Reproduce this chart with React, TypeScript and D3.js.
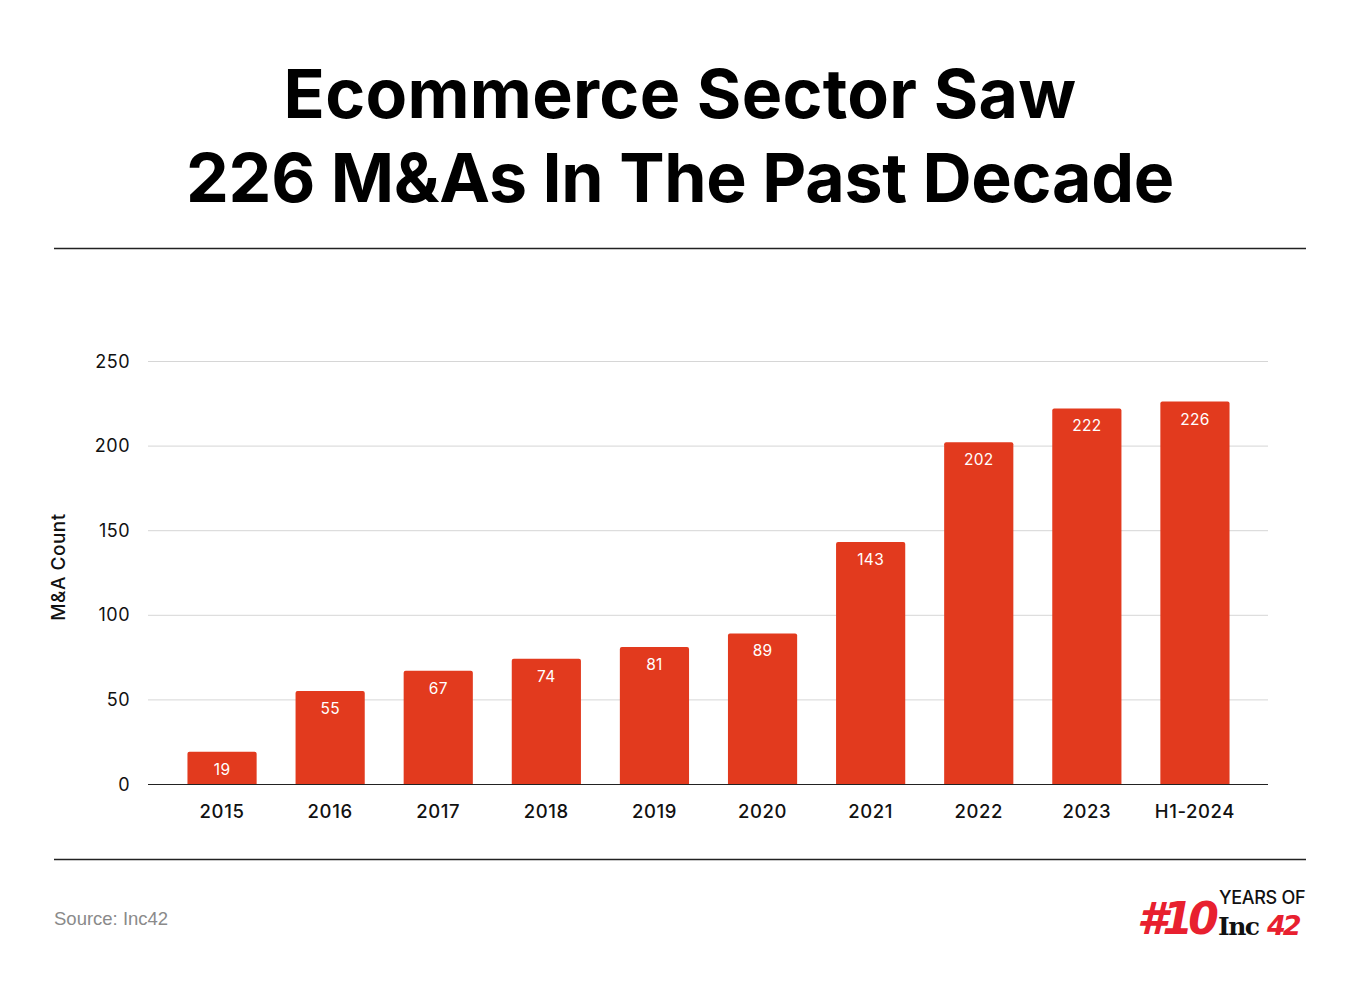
import React from "react";
import * as d3 from "d3";

const categories = ["2015", "2016", "2017", "2018", "2019", "2020", "2021", "2022", "2023", "H1-2024"];
const values = [19, 55, 67, 74, 81, 89, 143, 202, 222, 226];
const yTicks = [0, 50, 100, 150, 200, 250];

const W = 1360;
const H = 988;
const FONT = "Inter, 'Noto Sans', sans-serif";

export default function App() {
  const x = d3.scaleBand<string>().domain(categories).range([168, 1249]).paddingInner(0.36).paddingOuter(0.18);
  const y = d3.scaleLinear().domain([0, 250]).range([784, 361]);
  const red = "#E23A1E";
  return (
    <svg width={W} height={H} style={{ position: "absolute", left: 0, top: 0, background: "#fff" }}>
      <rect width={W} height={H} fill="#fff" />
      <text x={680} y={118} textAnchor="middle" fontFamily={FONT} fontWeight={700} fontSize={68} fill="#000" letterSpacing={0.3}>
        Ecommerce Sector Saw
      </text>
      <text x={680} y={202} textAnchor="middle" fontFamily={FONT} fontWeight={700} fontSize={68} fill="#000" letterSpacing={-0.3}>
        226 M&amp;As In The Past Decade
      </text>
      <line x1={54} x2={1306} y1={248.5} y2={248.5} stroke="#222" strokeWidth={1.3} />
      <line x1={54} x2={1306} y1={859.5} y2={859.5} stroke="#222" strokeWidth={1.3} />

      {yTicks.map((t) => (
        <g key={t}>
          {t > 0 && <line x1={148} x2={1268} y1={y(t) + 0.5} y2={y(t) + 0.5} stroke="#d6d6d6" strokeWidth={1} />}
          <text x={130} y={y(t) + 6.5} textAnchor="end" fontFamily={FONT} fontSize={18} fill="#111" letterSpacing={0.5}>
            {t}
          </text>
        </g>
      ))}
      <text transform={`translate(65,567) rotate(-90)`} textAnchor="middle" fontFamily={FONT} fontWeight={500} fontSize={19} fill="#111" letterSpacing={0.5}>
        M&amp;A Count
      </text>

      {categories.map((c, i) => {
        const bx = x(c)!;
        const bw = x.bandwidth();
        const top = y(values[i]);
        const r = 2;
        const path = `M${bx},${y(0)} V${top + r} Q${bx},${top} ${bx + r},${top} H${bx + bw - r} Q${bx + bw},${top} ${bx + bw},${top + r} V${y(0)} Z`;
        return (
          <g key={c}>
            <path d={path} fill={red} />
            <text x={bx + bw / 2} y={top + 23} textAnchor="middle" fontFamily={FONT} fontSize={15.5} fill="#fff" letterSpacing={0.3}>
              {values[i]}
            </text>
            <text x={bx + bw / 2} y={818} textAnchor="middle" fontFamily={FONT} fontWeight={500} fontSize={18.5} fill="#111" letterSpacing={0.6}>
              {c}
            </text>
          </g>
        );
      })}
      <line x1={148} x2={1268} y1={784.5} y2={784.5} stroke="#222" strokeWidth={1.2} />

      <text x={54} y={925} fontFamily="'Liberation Sans', Arial, sans-serif" fontSize={18.5} fill="#8a8a8a">
        Source: Inc42
      </text>

      <g>
        <text x={1137} y={934} fontFamily="'DejaVu Sans', sans-serif" fontWeight={900} fontStyle="italic" fontSize={44} fill="#E8202F" letterSpacing={-5}>
          #10
        </text>
        <text x={1219} y={904} fontFamily={FONT} fontWeight={500} fontSize={18} fill="#111" letterSpacing={-0.3}>
          YEARS OF
        </text>
        <text x={1218} y={935} fontFamily="'DejaVu Serif', serif" fontWeight={700} fontSize={25} fill="#111" letterSpacing={-1.5}>
          Inc
        </text>
        <text x={1267} y={935} fontFamily="'DejaVu Sans', sans-serif" fontWeight={900} fontStyle="italic" fontSize={27} fill="#E8202F" letterSpacing={-3}>
          42
        </text>
      </g>
    </svg>
  );
}
